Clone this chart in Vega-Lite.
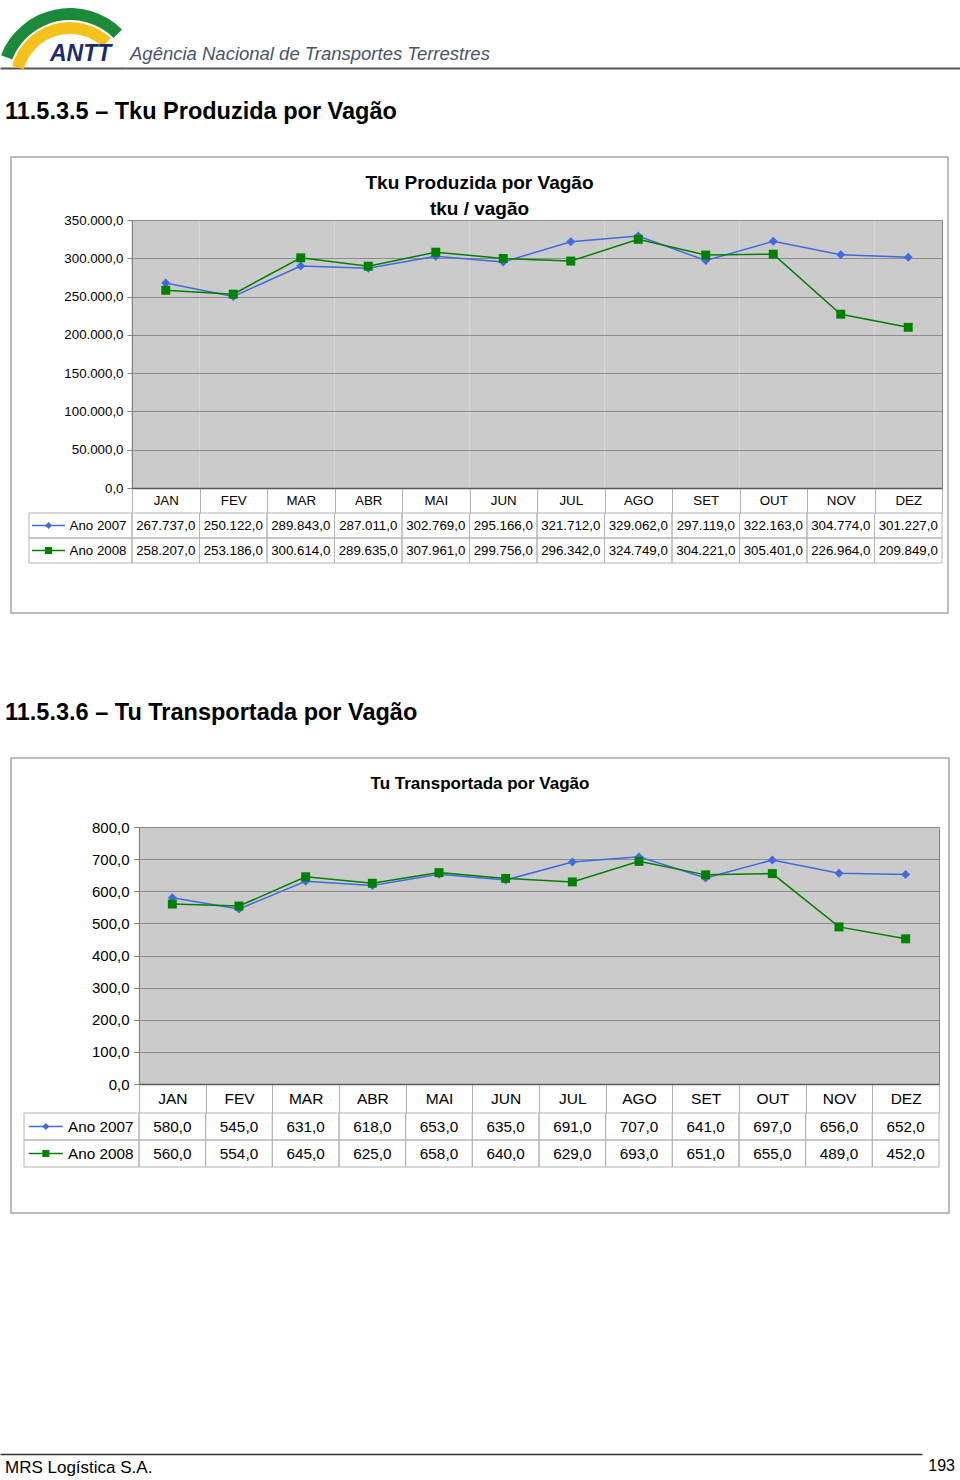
{
 "$schema": "https://vega.github.io/schema/vega-lite/v6.json",
 "background": "white",
 "padding": 0,
 "spacing": 0,
 "config": {
  "font": "Liberation Sans",
  "view": {"stroke": null},
  "locale": {"number": {"decimal": ",", "thousands": ".", "grouping": [3], "currency": ["R$ ", ""]}},
  "title": {"color": "#000000"}
 },
 "datasets": {
  "vazio": [],
  "um": [{"a": 1}],
  "series": [{"serie": "Ano 2007"}, {"serie": "Ano 2008"}],
  "tku": [
   {"mes": "JAN", "serie": "Ano 2007", "valor": 267737}, {"mes": "FEV", "serie": "Ano 2007", "valor": 250122},
   {"mes": "MAR", "serie": "Ano 2007", "valor": 289843}, {"mes": "ABR", "serie": "Ano 2007", "valor": 287011},
   {"mes": "MAI", "serie": "Ano 2007", "valor": 302769}, {"mes": "JUN", "serie": "Ano 2007", "valor": 295166},
   {"mes": "JUL", "serie": "Ano 2007", "valor": 321712}, {"mes": "AGO", "serie": "Ano 2007", "valor": 329062},
   {"mes": "SET", "serie": "Ano 2007", "valor": 297119}, {"mes": "OUT", "serie": "Ano 2007", "valor": 322163},
   {"mes": "NOV", "serie": "Ano 2007", "valor": 304774}, {"mes": "DEZ", "serie": "Ano 2007", "valor": 301227},
   {"mes": "JAN", "serie": "Ano 2008", "valor": 258207}, {"mes": "FEV", "serie": "Ano 2008", "valor": 253186},
   {"mes": "MAR", "serie": "Ano 2008", "valor": 300614}, {"mes": "ABR", "serie": "Ano 2008", "valor": 289635},
   {"mes": "MAI", "serie": "Ano 2008", "valor": 307961}, {"mes": "JUN", "serie": "Ano 2008", "valor": 299756},
   {"mes": "JUL", "serie": "Ano 2008", "valor": 296342}, {"mes": "AGO", "serie": "Ano 2008", "valor": 324749},
   {"mes": "SET", "serie": "Ano 2008", "valor": 304221}, {"mes": "OUT", "serie": "Ano 2008", "valor": 305401},
   {"mes": "NOV", "serie": "Ano 2008", "valor": 226964}, {"mes": "DEZ", "serie": "Ano 2008", "valor": 209849}
  ],
  "tu": [
   {"mes": "JAN", "serie": "Ano 2007", "valor": 580}, {"mes": "FEV", "serie": "Ano 2007", "valor": 545},
   {"mes": "MAR", "serie": "Ano 2007", "valor": 631}, {"mes": "ABR", "serie": "Ano 2007", "valor": 618},
   {"mes": "MAI", "serie": "Ano 2007", "valor": 653}, {"mes": "JUN", "serie": "Ano 2007", "valor": 635},
   {"mes": "JUL", "serie": "Ano 2007", "valor": 691}, {"mes": "AGO", "serie": "Ano 2007", "valor": 707},
   {"mes": "SET", "serie": "Ano 2007", "valor": 641}, {"mes": "OUT", "serie": "Ano 2007", "valor": 697},
   {"mes": "NOV", "serie": "Ano 2007", "valor": 656}, {"mes": "DEZ", "serie": "Ano 2007", "valor": 652},
   {"mes": "JAN", "serie": "Ano 2008", "valor": 560}, {"mes": "FEV", "serie": "Ano 2008", "valor": 554},
   {"mes": "MAR", "serie": "Ano 2008", "valor": 645}, {"mes": "ABR", "serie": "Ano 2008", "valor": 625},
   {"mes": "MAI", "serie": "Ano 2008", "valor": 658}, {"mes": "JUN", "serie": "Ano 2008", "valor": 640},
   {"mes": "JUL", "serie": "Ano 2008", "valor": 629}, {"mes": "AGO", "serie": "Ano 2008", "valor": 693},
   {"mes": "SET", "serie": "Ano 2008", "valor": 651}, {"mes": "OUT", "serie": "Ano 2008", "valor": 655},
   {"mes": "NOV", "serie": "Ano 2008", "valor": 489}, {"mes": "DEZ", "serie": "Ano 2008", "valor": 452}
  ]
 },
 "vconcat": [
  {
   "spacing": 0,
   "hconcat": [
    {
     "width": 125, "height": 70,
     "title": {"text": "ANTT", "anchor": "start", "frame": "group", "dx": 50, "offset": -84, "baseline": "alphabetic", "fontSize": 23, "fontWeight": "bold", "fontStyle": "italic", "color": "#1c2b6e"},
     "layer": [
      {"data": {"name": "um"}, "mark": {"type": "arc", "theta": -1.2, "theta2": 0.78, "radius": 74, "radius2": 62, "fill": "#1b8a3a", "xOffset": 7.5, "yOffset": 47}},
      {"data": {"name": "um"}, "mark": {"type": "arc", "theta": -1.3, "theta2": 0.75, "radius": 60, "radius2": 48, "fill": "#f5c21b", "xOffset": 7.5, "yOffset": 47}},
      {"data": {"name": "vazio"}, "mark": "point", "encoding": {"x": {"field": "k", "type": "quantitative", "scale": {"domain": [0, 1]}, "axis": {"orient": "bottom", "offset": -2, "labels": false, "ticks": false, "grid": false, "domain": true, "domainColor": "#555555", "domainWidth": 2, "title": null}}}}
     ]
    },
    {
     "width": 835, "height": 70,
     "title": {"text": "Agência Nacional de Transportes Terrestres", "anchor": "start", "frame": "group", "dx": 5, "offset": -78.5, "baseline": "alphabetic", "fontSize": 18.5, "fontWeight": "normal", "fontStyle": "italic", "color": "#46556f"},
     "data": {"name": "vazio"},
     "mark": "point",
     "encoding": {"x": {"field": "k", "type": "quantitative", "scale": {"domain": [0, 1]}, "axis": {"orient": "bottom", "offset": -2, "labels": false, "ticks": false, "grid": false, "domain": true, "domainColor": "#555555", "domainWidth": 2, "title": null}}}
    }
   ]
  },
  {
   "width": 960, "height": 86,
   "data": {"name": "vazio"},
   "mark": "point",
   "title": {"text": "11.5.3.5 – Tku Produzida por Vagão", "anchor": "start", "frame": "group", "dx": 5, "offset": -72.5, "baseline": "alphabetic", "fontSize": 23.5, "fontWeight": "bold", "color": "#000000"}
  },
  {
   "spacing": 0,
   "hconcat": [
    {"width": 10, "height": 10, "data": {"name": "vazio"}, "mark": "point"},
    {
     "width": 937, "height": 456,
     "view": {"stroke": "#a6a6a6", "strokeWidth": 1.5},
     "title": {"text": ["Tku Produzida por Vagão", "tku / vagão"], "anchor": "middle", "frame": "group", "offset": -62, "baseline": "top", "fontSize": 19, "fontWeight": "bold", "lineHeight": 26, "color": "#000000"},
     "resolve": {"scale": {"x": "independent", "y": "independent"}, "axis": {"x": "independent", "y": "independent"}},
     "layer": [
      {
       "data": {"name": "vazio"},
       "mark": {"type": "point"},
       "encoding": {
        "x": {"field": "mes", "type": "nominal", "sort": ["JAN","FEV","MAR","ABR","MAI","JUN","JUL","AGO","SET","OUT","NOV","DEZ"], "scale": {"domain": ["JAN","FEV","MAR","ABR","MAI","JUN","JUL","AGO","SET","OUT","NOV","DEZ"], "range": [121, 931], "paddingInner": 0, "paddingOuter": 0}, "axis": {"orient": "top", "tickBand": "center", "grid": true, "gridColor": "#cbcbcb", "gridWidth": 68, "gridOpacity": 1, "labels": false, "ticks": false, "domain": false, "title": null}},
        "y": {"field": "v", "type": "quantitative", "scale": {"domain": [0, 350000], "range": [331, 63], "nice": false, "zero": false}, "axis": {"orient": "right", "offset": -6, "labels": false, "ticks": false, "grid": false, "domain": true, "domainColor": "#808080", "domainWidth": 1, "title": null}}
       }
      },
      {
       "data": {"name": "tku"},
       "encoding": {
        "x": {"field": "mes", "type": "nominal", "sort": ["JAN","FEV","MAR","ABR","MAI","JUN","JUL","AGO","SET","OUT","NOV","DEZ"], "scale": {"domain": ["JAN","FEV","MAR","ABR","MAI","JUN","JUL","AGO","SET","OUT","NOV","DEZ"], "range": [121, 931], "paddingInner": 0, "paddingOuter": 0}, "axis": null},
        "y": {"field": "valor", "type": "quantitative", "scale": {"domain": [0, 350000], "range": [331, 63], "nice": false}, "axis": {"orient": "left", "offset": -121, "values": [0, 50000, 100000, 150000, 200000, 250000, 300000, 350000], "format": ",.1f", "labelFontSize": 13.3, "labelColor": "#000000", "labelPadding": 4, "tickSize": 5, "tickColor": "#808080", "domain": true, "domainColor": "#808080", "grid": true, "gridColor": "#8c8c8c", "gridWidth": 1, "title": null}},
        "color": {"field": "serie", "type": "nominal", "scale": {"domain": ["Ano 2007", "Ano 2008"], "range": ["#4169e1", "#008000"]}, "legend": null}
       },
       "layer": [
        {"mark": {"type": "line", "strokeWidth": 1.5}},
        {"mark": {"type": "point", "filled": true, "opacity": 1, "size": 80}, "encoding": {"shape": {"field": "serie", "type": "nominal", "scale": {"domain": ["Ano 2007", "Ano 2008"], "range": ["diamond", "square"]}, "legend": null}}}
       ]
      },
      {
       "data": {"name": "tku"},
       "encoding": {
        "x": {"field": "mes", "type": "nominal", "sort": ["JAN","FEV","MAR","ABR","MAI","JUN","JUL","AGO","SET","OUT","NOV","DEZ"], "scale": {"domain": ["JAN","FEV","MAR","ABR","MAI","JUN","JUL","AGO","SET","OUT","NOV","DEZ"], "range": [121, 931], "paddingInner": 0, "paddingOuter": 0}, "axis": {"orient": "bottom", "offset": -125, "tickBand": "extent", "ticks": true, "tickSize": 25, "tickColor": "#b4b4b4", "tickWidth": 1, "domain": true, "domainColor": "#595959", "domainWidth": 1.5, "labelAngle": 0, "labelFontSize": 13.3, "labelColor": "#000000", "labelBaseline": "middle", "labelPadding": -12.5, "grid": false, "title": null}},
        "y": {"field": "serie", "type": "nominal", "scale": {"domain": ["Ano 2007", "Ano 2008"], "range": [356, 406], "paddingInner": 0, "paddingOuter": 0}, "axis": {"orient": "left", "offset": -121, "ticks": false, "domain": false, "labelPadding": 6, "labelFontSize": 13.3, "labelColor": "#000000", "grid": false, "title": null}}
       },
       "layer": [
        {"mark": {"type": "rect", "filled": false, "color": "#b4b4b4", "strokeWidth": 1}},
        {"mark": {"type": "text", "fontSize": 13.3, "color": "#000000"}, "encoding": {"text": {"field": "valor", "type": "quantitative", "format": ",.1f"}}}
       ]
      },
      {
       "data": {"name": "series"},
       "encoding": {
        "y": {"field": "serie", "type": "nominal", "scale": {"domain": ["Ano 2007", "Ano 2008"], "range": [356, 406], "paddingInner": 0, "paddingOuter": 0}, "axis": null}
       },
       "layer": [
        {"mark": {"type": "rect", "filled": false, "color": "#b4b4b4", "strokeWidth": 1}, "encoding": {"x": {"datum": "leg", "type": "nominal", "scale": {"domain": ["leg"], "range": [18, 121], "paddingInner": 0, "paddingOuter": 0}, "axis": null}}},
        {"mark": {"type": "point", "shape": "M-1,0L1,0", "size": 1089, "filled": false, "strokeWidth": 1.5, "opacity": 1}, "encoding": {"x": {"datum": "leg", "type": "nominal", "bandPosition": 0.19, "axis": null}, "color": {"field": "serie", "type": "nominal", "legend": null}}},
        {"mark": {"type": "point", "filled": true, "size": 50, "opacity": 1}, "encoding": {"x": {"datum": "leg", "type": "nominal", "bandPosition": 0.19, "axis": null}, "color": {"field": "serie", "type": "nominal", "legend": null}, "shape": {"field": "serie", "type": "nominal", "legend": null}}}
       ]
      }
     ]
    }
   ]
  },
  {
   "width": 960, "height": 143,
   "data": {"name": "vazio"},
   "mark": "point",
   "title": {"text": "11.5.3.6 – Tu Transportada por Vagão", "anchor": "start", "frame": "group", "dx": 5, "offset": -129.5, "baseline": "alphabetic", "fontSize": 23.5, "fontWeight": "bold", "color": "#000000"}
  },
  {
   "spacing": 0,
   "hconcat": [
    {"width": 10, "height": 10, "data": {"name": "vazio"}, "mark": "point"},
    {
     "width": 938, "height": 455,
     "view": {"stroke": "#a6a6a6", "strokeWidth": 1.5},
     "title": {"text": "Tu Transportada por Vagão", "anchor": "middle", "frame": "group", "offset": -35, "baseline": "top", "fontSize": 17, "fontWeight": "bold", "color": "#000000"},
     "resolve": {"scale": {"x": "independent", "y": "independent"}, "axis": {"x": "independent", "y": "independent"}},
     "layer": [
      {
       "data": {"name": "vazio"},
       "mark": {"type": "point"},
       "encoding": {
        "x": {"field": "mes", "type": "nominal", "sort": ["JAN","FEV","MAR","ABR","MAI","JUN","JUL","AGO","SET","OUT","NOV","DEZ"], "scale": {"domain": ["JAN","FEV","MAR","ABR","MAI","JUN","JUL","AGO","SET","OUT","NOV","DEZ"], "range": [128, 928], "paddingInner": 0, "paddingOuter": 0}, "axis": {"orient": "top", "tickBand": "center", "grid": true, "gridColor": "#cbcbcb", "gridWidth": 67.5, "gridOpacity": 1, "labels": false, "ticks": false, "domain": false, "title": null}},
        "y": {"field": "v", "type": "quantitative", "scale": {"domain": [0, 800], "range": [326, 69], "nice": false, "zero": false}, "axis": {"orient": "right", "offset": -10, "labels": false, "ticks": false, "grid": false, "domain": true, "domainColor": "#808080", "domainWidth": 1, "title": null}}
       }
      },
      {
       "data": {"name": "tu"},
       "encoding": {
        "x": {"field": "mes", "type": "nominal", "sort": ["JAN","FEV","MAR","ABR","MAI","JUN","JUL","AGO","SET","OUT","NOV","DEZ"], "scale": {"domain": ["JAN","FEV","MAR","ABR","MAI","JUN","JUL","AGO","SET","OUT","NOV","DEZ"], "range": [128, 928], "paddingInner": 0, "paddingOuter": 0}, "axis": null},
        "y": {"field": "valor", "type": "quantitative", "scale": {"domain": [0, 800], "range": [326, 69], "nice": false}, "axis": {"orient": "left", "offset": -128, "values": [0, 100, 200, 300, 400, 500, 600, 700, 800], "format": ",.1f", "labelFontSize": 15, "labelColor": "#000000", "labelPadding": 5, "tickSize": 5, "tickColor": "#808080", "domain": true, "domainColor": "#808080", "grid": true, "gridColor": "#8c8c8c", "gridWidth": 1, "title": null}},
        "color": {"field": "serie", "type": "nominal", "scale": {"domain": ["Ano 2007", "Ano 2008"], "range": ["#4169e1", "#008000"]}, "legend": null}
       },
       "layer": [
        {"mark": {"type": "line", "strokeWidth": 1.5}},
        {"mark": {"type": "point", "filled": true, "opacity": 1, "size": 80}, "encoding": {"shape": {"field": "serie", "type": "nominal", "scale": {"domain": ["Ano 2007", "Ano 2008"], "range": ["diamond", "square"]}, "legend": null}}}
       ]
      },
      {
       "data": {"name": "tu"},
       "encoding": {
        "x": {"field": "mes", "type": "nominal", "sort": ["JAN","FEV","MAR","ABR","MAI","JUN","JUL","AGO","SET","OUT","NOV","DEZ"], "scale": {"domain": ["JAN","FEV","MAR","ABR","MAI","JUN","JUL","AGO","SET","OUT","NOV","DEZ"], "range": [128, 928], "paddingInner": 0, "paddingOuter": 0}, "axis": {"orient": "bottom", "offset": -129, "tickBand": "extent", "ticks": true, "tickSize": 29, "tickColor": "#b4b4b4", "tickWidth": 1, "domain": true, "domainColor": "#595959", "domainWidth": 1.5, "labelAngle": 0, "labelFontSize": 15.5, "labelColor": "#000000", "labelBaseline": "middle", "labelPadding": -14.5, "grid": false, "title": null}},
        "y": {"field": "serie", "type": "nominal", "scale": {"domain": ["Ano 2007", "Ano 2008"], "range": [355, 409], "paddingInner": 0, "paddingOuter": 0}, "axis": {"orient": "left", "offset": -128, "ticks": false, "domain": false, "labelPadding": 6, "labelFontSize": 15.3, "labelColor": "#000000", "grid": false, "title": null}}
       },
       "layer": [
        {"mark": {"type": "rect", "filled": false, "color": "#b4b4b4", "strokeWidth": 1}},
        {"mark": {"type": "text", "fontSize": 15.3, "color": "#000000"}, "encoding": {"text": {"field": "valor", "type": "quantitative", "format": ",.1f"}}}
       ]
      },
      {
       "data": {"name": "series"},
       "encoding": {
        "y": {"field": "serie", "type": "nominal", "scale": {"domain": ["Ano 2007", "Ano 2008"], "range": [355, 409], "paddingInner": 0, "paddingOuter": 0}, "axis": null}
       },
       "layer": [
        {"mark": {"type": "rect", "filled": false, "color": "#b4b4b4", "strokeWidth": 1}, "encoding": {"x": {"datum": "leg", "type": "nominal", "scale": {"domain": ["leg"], "range": [13, 128], "paddingInner": 0, "paddingOuter": 0}, "axis": null}}},
        {"mark": {"type": "point", "shape": "M-1,0L1,0", "size": 1156, "filled": false, "strokeWidth": 1.5, "opacity": 1}, "encoding": {"x": {"datum": "leg", "type": "nominal", "bandPosition": 0.19, "axis": null}, "color": {"field": "serie", "type": "nominal", "legend": null}}},
        {"mark": {"type": "point", "filled": true, "size": 50, "opacity": 1}, "encoding": {"x": {"datum": "leg", "type": "nominal", "bandPosition": 0.19, "axis": null}, "color": {"field": "serie", "type": "nominal", "legend": null}, "shape": {"field": "serie", "type": "nominal", "legend": null}}}
       ]
      }
     ]
    }
   ]
  },
  {"width": 960, "height": 239, "data": {"name": "vazio"}, "mark": "point"},
  {
   "spacing": 0,
   "hconcat": [
    {
     "width": 922, "height": 25,
     "title": {"text": "MRS Logística S.A.", "anchor": "start", "frame": "group", "dx": 5, "offset": -37, "baseline": "alphabetic", "fontSize": 17, "fontWeight": "normal", "color": "#000000"},
     "data": {"name": "vazio"},
     "mark": "point",
     "encoding": {"x": {"field": "k", "type": "quantitative", "scale": {"domain": [0, 1]}, "axis": {"orient": "top", "offset": -1, "labels": false, "ticks": false, "grid": false, "domain": true, "domainColor": "#333333", "domainWidth": 1.5, "title": null}}}
    },
    {
     "width": 38, "height": 25,
     "title": {"text": "193", "anchor": "end", "frame": "group", "dx": -5, "offset": -34, "baseline": "alphabetic", "fontSize": 16, "fontWeight": "normal", "color": "#000000"},
     "data": {"name": "vazio"},
     "mark": "point"
    }
   ]
  }
 ]
}
